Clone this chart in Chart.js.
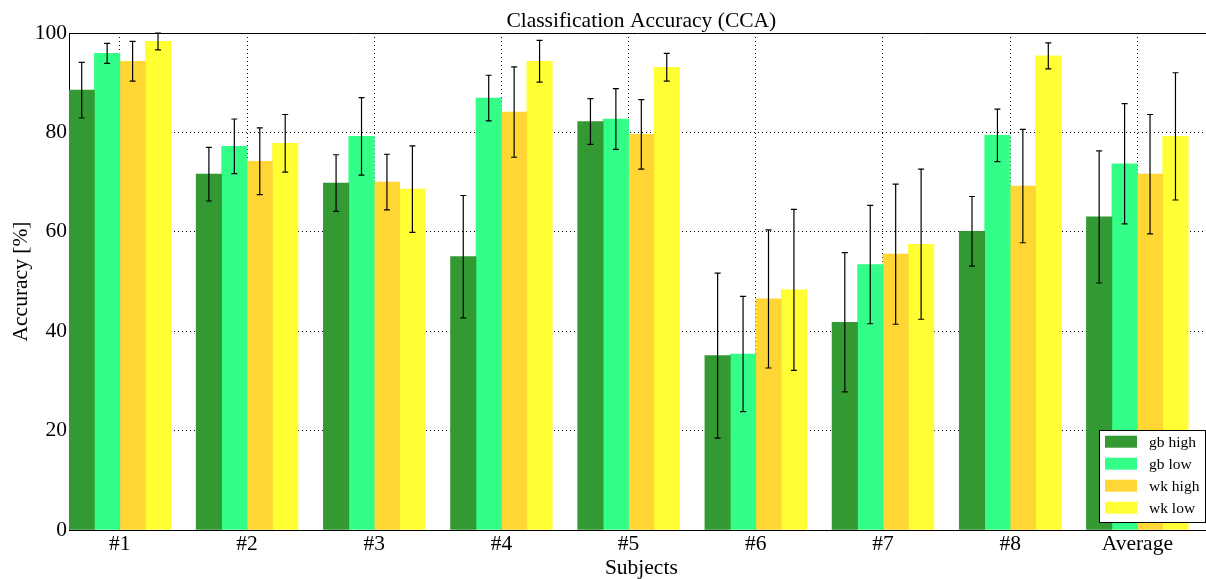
<!DOCTYPE html>
<html>
<head>
<meta charset="utf-8">
<script src="https://cdn.jsdelivr.net/npm/chart.js@4"></script>
<style>
html,body{margin:0;padding:0;background:#fff;}
#wrap{width:1206px;height:579px;position:relative;}
</style>
</head>
<body>
<div id="wrap"><canvas id="c"></canvas></div>
<script>
const categories = ['#1', '#2', '#3', '#4', '#5', '#6', '#7', '#8', 'Average'];
const seriesNames = ['gb high', 'gb low', 'wk high', 'wk low'];
const gbHigh = [88.5, 71.6, 69.8, 55.0, 82.2, 35.1, 41.8, 60.1, 63.0];
const gbLow  = [95.9, 77.2, 79.2, 86.9, 82.7, 35.4, 53.4, 79.4, 73.7];
const wkHigh = [94.3, 74.2, 70.0, 84.1, 79.6, 46.5, 55.5, 69.2, 71.6];
const wkLow  = [98.3, 77.8, 68.6, 94.3, 93.1, 48.3, 57.5, 95.4, 79.2];
const gbHighErr = [5.6, 5.4, 5.7, 12.3, 4.6, 16.6, 14.0, 7.0, 13.3];
const gbLowErr  = [2.0, 5.5, 7.8, 4.6, 6.1, 11.6, 11.9, 5.3, 12.1];
const wkHighErr = [4.0, 6.7, 5.6, 9.1, 7.0, 13.9, 14.1, 11.4, 12.0];
const wkLowErr  = [1.7, 5.8, 8.7, 4.2, 2.8, 16.2, 15.1, 2.6, 12.8];
const yTicks = [0, 20, 40, 60, 80, 100];

const chartTitle = 'Classification Accuracy (CCA)';
const xTitle = 'Subjects';
const yTitle = 'Accuracy [%]';

const colors = ['#339933', '#33ff88', '#ffd633', '#ffff33'];
const allValues = [gbHigh, gbLow, wkHigh, wkLow];
const allErrors = [gbHighErr, gbLowErr, wkHighErr, wkLowErr];

const BAR_W = 0.2; // bar width in category units (matplotlib style)
const X_VIEW_MAX = 8.94; // the plot is cut at the right edge of the picture
const SERIF = "'Liberation Serif', 'DejaVu Serif', serif";
const FONT_PX = 21.5;

const datasets = allValues.map((vals, k) => ({
  label: seriesNames[k],
  data: vals.map((v, i) => ({ x: i + BAR_W / 2 + BAR_W * k, y: v })),
  errors: allErrors[k],
  backgroundColor: colors[k],
  borderWidth: 0,
  grouped: false,
  barPercentage: 1,
  categoryPercentage: 1
}));

const errorBars = {
  id: 'errorBars',
  afterDatasetsDraw(chart) {
    const ctx = chart.ctx;
    const ys = chart.scales.y;
    ctx.save();
    ctx.strokeStyle = '#000';
    ctx.lineWidth = 1.2;
    chart.data.datasets.forEach((ds, di) => {
      const meta = chart.getDatasetMeta(di);
      meta.data.forEach((el, i) => {
        const v = ds.data[i].y, e = ds.errors[i];
        const x = el.x;
        const yt = ys.getPixelForValue(v + e);
        const yb = ys.getPixelForValue(v - e);
        ctx.beginPath();
        ctx.moveTo(x, yt); ctx.lineTo(x, yb);
        ctx.moveTo(x - 3, yt); ctx.lineTo(x + 3, yt);
        ctx.moveTo(x - 3, yb); ctx.lineTo(x + 3, yb);
        ctx.stroke();
      });
    });
    ctx.restore();
  }
};

const frameTitlesLegend = {
  id: 'frameTitlesLegend',
  afterDraw(chart) {
    const ctx = chart.ctx;
    const a = chart.chartArea;
    const xs = chart.scales.x;
    ctx.save();
    // top frame line
    ctx.strokeStyle = '#000';
    ctx.lineWidth = 1;
    ctx.beginPath();
    ctx.moveTo(a.left, Math.round(a.top) + 0.5);
    ctx.lineTo(a.right, Math.round(a.top) + 0.5);
    ctx.stroke();
    // titles centred on the full axes (0 .. number of categories)
    const cx = xs.getPixelForValue(categories.length / 2);
    ctx.fillStyle = '#000';
    ctx.font = FONT_PX + 'px ' + SERIF;
    ctx.textAlign = 'center';
    ctx.textBaseline = 'alphabetic';
    ctx.fillText(chartTitle, cx, 27);
    ctx.fillText(xTitle, cx, 574);
    // legend (lower right)
    const w = 107, h = 92;
    const right = a.right, bottom = a.bottom - 8;
    const left = right - w, top = bottom - h;
    ctx.fillStyle = '#fff';
    ctx.fillRect(left, top, w + 2, h);
    ctx.strokeStyle = '#000';
    ctx.lineWidth = 1;
    ctx.strokeRect(Math.round(left) + 0.5, Math.round(top) + 0.5, w - 1, h);
    ctx.font = "15.5px " + SERIF;
    ctx.textBaseline = 'middle';
    ctx.textAlign = 'left';
    chart.data.datasets.forEach((ds, k) => {
      const cy = top + 11.7 + 22 * k;
      ctx.fillStyle = ds.backgroundColor;
      ctx.fillRect(left + 6, cy - 6, 32, 12);
      ctx.fillStyle = '#000';
      ctx.fillText(ds.label, left + 50, cy + 1);
    });
    ctx.restore();
  }
};

new Chart(document.getElementById('c'), {
  type: 'bar',
  data: { datasets },
  options: {
    responsive: true,
    maintainAspectRatio: false,
    animation: false,
    layout: { padding: { left: 0, right: 0, top: 33, bottom: 0 } },
    plugins: {
      legend: { display: false },
      tooltip: { enabled: false },
      title: { display: false }
    },
    scales: {
      x: {
        type: 'linear',
        min: 0,
        max: X_VIEW_MAX,
        offset: false,
        z: 1,
        afterBuildTicks(scale) {
          scale.ticks = categories.map((c, i) => ({ value: i + BAR_W * 2 }));
        },
        afterFit(scale) { scale.height = 49; },
        ticks: {
          autoSkip: false,
          maxRotation: 0,
          padding: 1,
          color: '#000',
          font: { family: SERIF, size: FONT_PX },
          callback: (v, idx) => categories[idx]
        },
        grid: {
          offset: false,
          color: '#000',
          lineWidth: 1,
          drawTicks: false
        },
        border: { display: true, color: '#000', width: 1, dash: [1, 3] },
        title: { display: false }
      },
      y: {
        min: 0,
        max: 100,
        z: 1,
        afterBuildTicks(scale) {
          scale.ticks = yTicks.map(v => ({ value: v }));
        },
        afterFit(scale) { scale.width = 69; },
        ticks: {
          padding: 2,
          color: '#000',
          font: { family: SERIF, size: FONT_PX }
        },
        grid: {
          color: '#000',
          lineWidth: 1,
          drawTicks: false
        },
        border: { display: true, color: '#000', width: 1, dash: [1, 3] },
        title: {
          display: true,
          text: yTitle,
          color: '#000',
          font: { family: SERIF, size: FONT_PX },
          padding: { top: 8, bottom: 0 }
        }
      }
    }
  },
  plugins: [errorBars, frameTitlesLegend]
});
</script>
</body>
</html>
